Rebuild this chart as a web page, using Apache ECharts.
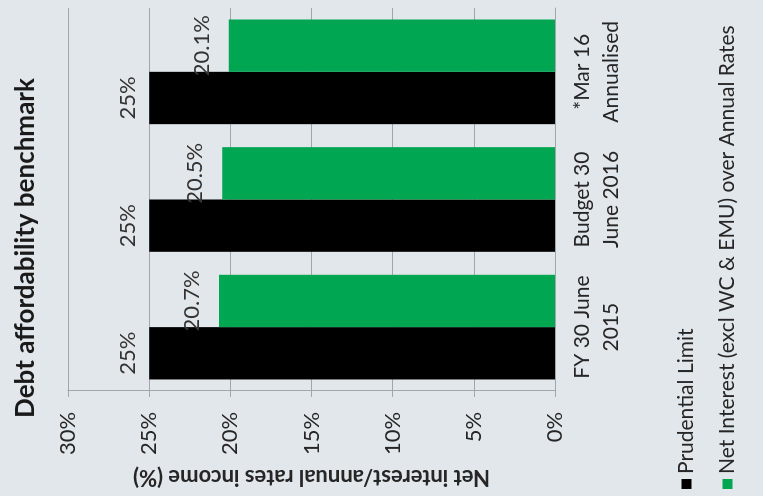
<!DOCTYPE html>
<html>
<head>
<meta charset="utf-8">
<script src="https://cdn.jsdelivr.net/npm/echarts@6/dist/echarts.min.js"></script>
<style>
  html, body { margin: 0; padding: 0; width: 763px; height: 496px; overflow: hidden; background: #e2e7eb; }
  /* The chart is laid out portrait and turned a quarter turn anticlockwise on the page */
  #chart { position: absolute; left: 0; top: 496px; width: 496px; height: 763px;
           transform-origin: 0 0; transform: rotate(-90deg); }
</style>
</head>
<body>
<div id="chart"></div>
<script>
// Periods reported
const categories = ['FY 30 June\n2015', 'Budget 30\nJune 2016', '*Mar 16\nAnnualised'];
// Series values (% of annual rates income)
const prudentialLimit = [25, 25, 25];
const netInterest = [20.7, 20.5, 20.1];
// Series names
const seriesNames = ['Prudential Limit', 'Net Interest (excl WC & EMU) over Annual Rates'];
// Value axis range and step
const axisMin = 0, axisMax = 30, axisStep = 5;

const FONT = 'Lato';
const TEXT = '#262626';
const GRID = '#a3a6a8';

const chart = echarts.init(document.getElementById('chart'), null, { width: 496, height: 763, renderer: 'canvas' });

chart.setOption({
  backgroundColor: '#e2e7eb',
  animation: false,
  title: {
    text: 'Debt affordability benchmark',
    left: 'center',
    top: 8,
    textStyle: { fontFamily: FONT, fontSize: 26, fontWeight: 'bold', color: '#1a1a1a' }
  },
  legend: {
    orient: 'vertical',
    left: 2,
    top: 671,
    itemWidth: 10,
    itemHeight: 10,
    itemGap: 20,
    icon: 'rect',
    data: seriesNames,
    textStyle: { fontFamily: FONT, fontSize: 21, color: TEXT }
  },
  grid: { left: 104, right: 8, top: 68, bottom: 208, containLabel: false },
  xAxis: {
    type: 'category',
    data: categories,
    axisLine: { show: true, lineStyle: { color: GRID, width: 1 } },
    axisTick: { show: false },
    axisLabel: { fontFamily: FONT, fontSize: 21, color: TEXT, lineHeight: 29, margin: 13, interval: 0 }
  },
  yAxis: {
    type: 'value',
    min: axisMin,
    max: axisMax,
    interval: axisStep,
    name: 'Net interest/annual rates income (%)',
    nameLocation: 'middle',
    nameRotate: 90,
    nameGap: 72,
    nameTextStyle: { fontFamily: FONT, fontSize: 22, fontWeight: 'bold', color: TEXT },
    axisLine: { show: true, lineStyle: { color: GRID, width: 1 } },
    axisTick: { show: true, inside: false, length: 6, lineStyle: { color: GRID } },
    axisLabel: { fontFamily: FONT, fontSize: 22, color: TEXT, margin: 21, formatter: '{value}%' },
    splitLine: { show: true, lineStyle: { color: GRID, width: 1 } }
  },
  series: [
    {
      name: seriesNames[0],
      type: 'bar',
      data: prudentialLimit,
      barGap: '0%',
      barCategoryGap: '18%',
      itemStyle: { color: '#000000' },
      label: { show: true, position: 'top', distance: 10, fontFamily: FONT, fontSize: 22, color: '#333333',
               formatter: p => p.value + '%' }
    },
    {
      name: seriesNames[1],
      type: 'bar',
      data: netInterest,
      barGap: '0%',
      barCategoryGap: '18%',
      itemStyle: { color: '#00a651' },
      label: { show: true, position: 'top', distance: 16, fontFamily: FONT, fontSize: 22, color: '#333333',
               formatter: p => p.value + '%' }
    }
  ]
});
</script>
</body>
</html>
